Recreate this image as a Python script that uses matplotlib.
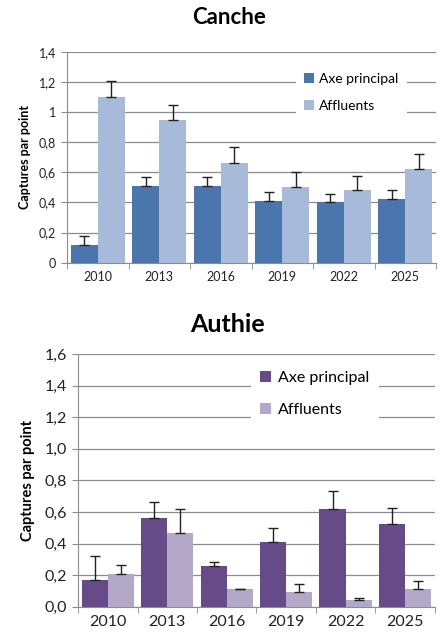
import matplotlib
matplotlib.use("Agg")
import matplotlib.pyplot as plt
import numpy as np
from matplotlib.ticker import FuncFormatter

years = ["2010", "2013", "2016", "2019", "2022", "2025"]

canche_axe = [0.12, 0.51, 0.51, 0.41, 0.40, 0.42]
canche_axe_err = [0.06, 0.06, 0.06, 0.06, 0.055, 0.06]
canche_aff = [1.10, 0.95, 0.665, 0.50, 0.48, 0.62]
canche_aff_err = [0.11, 0.10, 0.105, 0.10, 0.095, 0.105]

authie_axe = [0.17, 0.56, 0.26, 0.41, 0.62, 0.525]
authie_axe_err = [0.15, 0.10, 0.02, 0.09, 0.115, 0.10]
authie_aff = [0.205, 0.465, 0.11, 0.095, 0.04, 0.115]
authie_aff_err = [0.06, 0.155, 0.005, 0.05, 0.015, 0.045]

plt.rcParams['font.family'] = ['Lato', 'DejaVu Sans']

fig = plt.figure(figsize=(4.41, 6.37), dpi=100)

def draw(ax, rect, axe, axe_err, aff, aff_err, c1, c2, ymax, fmt, fs_tick, fs_lab, fs_leg, legpos, ylab_x):
    x = np.arange(len(years))
    w = 0.44
    ax.bar(x - w/2, axe, w, color=c1, label="Axe principal", zorder=3)
    ax.bar(x + w/2, aff, w, color=c2, label="Affluents", zorder=3)
    ax.errorbar(x - w/2, axe, yerr=[np.zeros(len(axe)), axe_err], fmt='none',
                ecolor='#222222', elinewidth=1, capsize=3.5, capthick=1, zorder=4)
    ax.errorbar(x + w/2, aff, yerr=[np.zeros(len(aff)), aff_err], fmt='none',
                ecolor='#222222', elinewidth=1, capsize=3.5, capthick=1, zorder=4)
    ax.set_xlim(-0.5, len(years) - 0.5)
    ax.set_ylim(0, ymax)
    ax.set_yticks(np.arange(0, ymax + 0.001, 0.2))
    ax.yaxis.set_major_formatter(FuncFormatter(fmt))
    ax.grid(axis='y', color='#8c8c8c', linewidth=0.9, zorder=0)
    ax.set_axisbelow(True)
    for s in ['top', 'right']:
        ax.spines[s].set_visible(False)
    ax.spines['left'].set_color('#8c8c8c')
    ax.spines['bottom'].set_color('#8c8c8c')
    ax.set_xticks(x)
    ax.set_xticklabels(years, fontsize=fs_tick, color='#222222')
    ax.tick_params(axis='x', length=0, pad=6)
    ax.set_xticks(np.arange(-0.5, len(years)), minor=True)
    ax.tick_params(axis='x', which='minor', length=4, color='#8c8c8c', direction='out')
    ax.tick_params(axis='y', length=4, color='#8c8c8c', labelsize=fs_tick, labelcolor='#222222', pad=4)
    ax.set_ylabel("Captures par point", fontsize=fs_lab, fontweight='bold')
    ax.yaxis.set_label_coords(ylab_x, rect[1] + rect[3] / 2, transform=fig.transFigure)
    leg = ax.legend(loc='upper left', bbox_to_anchor=legpos, bbox_transform=fig.transFigure,
                    fontsize=fs_leg, frameon=True, facecolor='white', edgecolor='none',
                    framealpha=1, handlelength=0.7, handleheight=0.7, handletextpad=0.4,
                    labelspacing=1.1, borderpad=0.6)
    leg.set_zorder(5)

def fmt_top(v, pos):
    if abs(v) < 1e-9:
        return "0"
    if abs(v - round(v)) < 1e-9:
        return str(int(round(v)))
    return ("%.1f" % v).replace(".", ",")

def fmt_bot(v, pos):
    return ("%.1f" % v).replace(".", ",")

r1 = [0.152, 0.5876, 0.837, 0.3308]
ax1 = fig.add_axes(r1)
draw(ax1, r1, canche_axe, canche_axe_err, canche_aff, canche_aff_err,
     '#4A76AD', '#A8BAD9', 1.4, fmt_top, 9, 9, 10, (0.655, 0.91), 0.07)
fig.text(0.52, 0.972, "Canche", ha='center', va='center', fontsize=16, fontweight='bold')

r2 = [0.177, 0.0476, 0.809, 0.3967]
ax2 = fig.add_axes(r2)
draw(ax2, r2, authie_axe, authie_axe_err, authie_aff, authie_aff_err,
     '#674B88', '#B4A8C9', 1.6, fmt_bot, 11.5, 10.5, 11.5, (0.55, 0.445), 0.08)
fig.text(0.515, 0.49, "Authie", ha='center', va='center', fontsize=18, fontweight='bold')

fig.savefig("out.png", dpi=100, facecolor='white')
